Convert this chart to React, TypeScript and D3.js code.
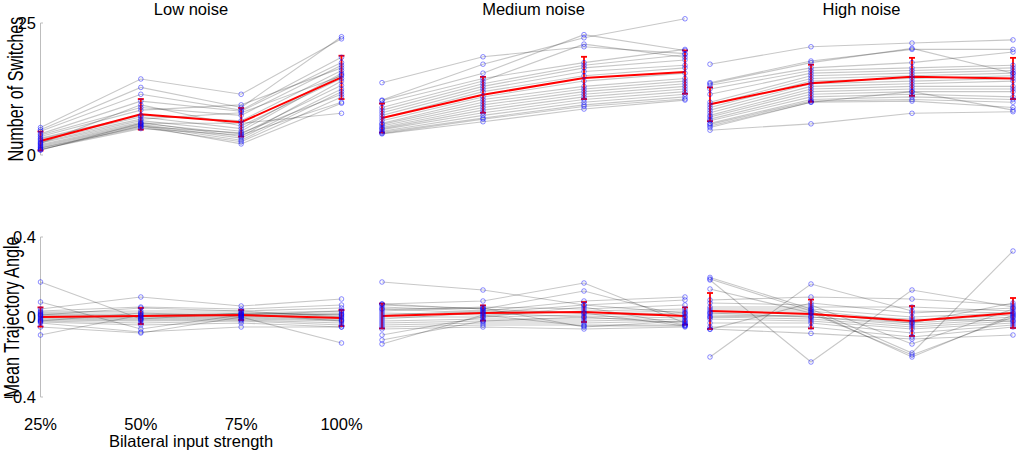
import React from "react";
import * as d3 from "d3";

const levels = ["25%", "50%", "75%", "100%"];
const noiseTitles = ["Low noise", "Medium noise", "High noise"];
const switchTicks = [0, 25];
const angleTicks = [-0.4, 0, 0.4];

// number of switches, one row per subject, columns = input strength
const switchesLow = [
  [5.2, 14.4, 11.5, 22.0], [4.8, 12.8, 9.0, 22.4], [4.5, 11.5, 8.5, 18.5],
  [4.0, 10.2, 8.3, 17.5], [3.8, 9.0, 7.5, 17.0], [3.5, 8.5, 9.5, 16.5],
  [3.2, 7.5, 6.5, 16.0], [3.0, 7.2, 5.0, 15.5], [2.8, 6.8, 8.0, 15.0],
  [2.5, 6.5, 4.5, 15.2], [2.3, 6.2, 3.5, 14.0], [2.0, 6.0, 4.0, 13.2],
  [1.8, 5.8, 3.2, 12.5], [1.6, 5.6, 2.8, 12.0], [1.4, 5.4, 4.2, 11.5],
  [1.3, 5.2, 2.5, 11.0], [1.1, 5.0, 3.8, 10.0], [1.0, 5.5, 2.1, 9.8],
  [0.9, 6.0, 6.0, 7.9], [2.2, 9.5, 5.5, 14.5],
];
const switchesMedium = [
  [13.7, 18.6, 20.5, 19.2], [10.4, 17.2, 22.2, 25.8], [10.3, 15.5, 22.8, 19.8],
  [9.8, 14.5, 17.5, 20.0], [9.0, 14.0, 21.0, 18.5], [8.5, 13.5, 17.0, 19.0],
  [8.0, 13.0, 16.5, 18.0], [7.5, 12.5, 15.8, 17.0], [7.0, 12.0, 15.0, 16.5],
  [6.5, 11.0, 14.0, 15.5], [6.0, 10.5, 13.0, 14.5], [5.8, 10.0, 12.5, 14.0],
  [5.5, 9.5, 12.0, 13.5], [5.2, 9.0, 11.5, 13.0], [5.0, 8.5, 11.0, 12.5],
  [4.8, 8.0, 10.5, 12.0], [4.5, 7.5, 10.0, 11.5], [4.3, 7.0, 9.5, 11.0],
  [4.1, 6.8, 9.2, 10.6], [4.0, 6.3, 8.7, 10.4],
];
const switchesHigh = [
  [17.2, 20.5, 21.2, 21.8], [13.7, 17.8, 20.0, 20.0], [13.5, 17.5, 20.2, 15.5],
  [13.2, 16.5, 17.5, 19.5], [12.5, 16.0, 16.5, 17.0], [11.5, 15.5, 16.0, 16.5],
  [10.0, 15.0, 15.5, 16.0], [9.5, 14.5, 15.0, 15.5], [9.0, 14.0, 14.5, 15.0],
  [8.5, 13.5, 14.0, 14.5], [8.0, 13.0, 13.5, 14.0], [7.5, 12.5, 13.0, 13.0],
  [7.2, 12.0, 12.5, 12.5], [6.8, 11.5, 12.0, 12.0], [6.5, 11.0, 11.5, 11.0],
  [6.0, 10.5, 11.0, 10.5], [5.8, 10.2, 10.5, 10.0], [5.5, 10.0, 10.2, 9.0],
  [5.2, 10.0, 12.0, 8.5], [4.7, 5.9, 7.9, 8.2],
];

// mean trajectory angle, one row per subject
const anglesLow = [
  [0.175, -0.01, 0.02, 0.01], [0.075, -0.06, 0.01, 0.03], [0.04, 0.1, 0.055, 0.09],
  [0.03, 0.05, 0.04, 0.06], [0.025, 0.03, 0.03, 0.045], [0.02, 0.02, 0.02, 0.03],
  [0.015, 0.01, 0.015, 0.02], [0.01, 0.005, 0.01, 0.01], [0.005, 0.0, 0.005, 0.0],
  [0.0, -0.005, 0.0, -0.01], [-0.005, -0.01, -0.005, -0.015], [-0.01, -0.015, -0.01, -0.02],
  [-0.015, -0.02, -0.015, -0.03], [-0.02, -0.03, -0.02, -0.04], [-0.025, -0.04, -0.03, -0.05],
  [-0.03, -0.075, -0.05, -0.05], [-0.05, -0.08, 0.0, -0.13], [-0.09, 0.01, 0.015, -0.02],
  [0.01, 0.045, 0.03, 0.0], [-0.02, 0.02, 0.005, 0.015],
];
const anglesMedium = [
  [0.175, 0.135, 0.06, 0.02], [0.065, 0.08, 0.17, -0.03], [0.06, 0.04, 0.13, 0.0],
  [0.05, 0.03, 0.08, 0.1], [0.04, 0.02, 0.06, 0.085], [0.03, 0.05, 0.04, 0.06],
  [0.02, 0.01, 0.03, 0.04], [0.01, 0.03, 0.02, 0.03], [0.0, 0.0, 0.01, 0.02],
  [-0.01, 0.02, 0.0, 0.01], [-0.02, -0.01, -0.01, 0.0], [-0.03, -0.02, -0.02, -0.01],
  [-0.04, -0.03, -0.03, -0.02], [-0.05, -0.04, -0.04, -0.04], [-0.06, -0.05, -0.06, -0.05],
  [-0.09, 0.0, 0.05, -0.04], [-0.115, -0.02, 0.0, -0.03], [-0.135, 0.01, -0.045, -0.045],
  [0.065, 0.04, 0.02, -0.045], [0.04, 0.045, -0.05, -0.02],
];
const anglesHigh = [
  [-0.2, 0.165, 0.03, 0.02], [0.198, 0.04, -0.18, 0.33], [0.19, 0.03, -0.2, 0.01],
  [0.185, -0.225, 0.135, 0.05], [0.14, 0.02, -0.19, 0.0], [0.085, 0.1, 0.09, 0.06],
  [0.07, 0.06, -0.135, 0.04], [0.05, 0.05, 0.05, 0.03], [0.04, 0.04, 0.0, 0.02],
  [0.03, 0.03, -0.02, 0.01], [0.02, 0.02, -0.03, 0.0], [0.01, 0.0, -0.04, -0.01],
  [0.0, -0.01, -0.05, -0.02], [-0.01, -0.02, -0.06, -0.03], [-0.03, -0.03, -0.08, -0.04],
  [-0.05, -0.05, -0.1, -0.05], [-0.06, -0.082, -0.11, -0.09], [-0.062, 0.07, 0.02, 0.045],
  [0.02, 0.0, -0.03, 0.07], [0.0, 0.01, -0.01, -0.02],
];

// group means and error bar half-widths (low, medium, high noise)
const switchMeans = [[2.65, 7.7, 6.2, 14.7], [7.0, 11.4, 14.6, 15.7], [9.6, 13.6, 14.8, 14.5]];
const switchErrs = [[1.8, 2.9, 2.7, 4.1], [2.75, 3.4, 4.0, 4.1], [3.2, 3.5, 3.6, 3.9]];
const angleMeans = [[0.0, 0.005, 0.01, -0.005], [0.005, 0.02, 0.025, 0.005], [0.03, 0.015, -0.02, 0.02]];
const angleErrs = [[0.048, 0.04, 0.025, 0.04], [0.062, 0.038, 0.05, 0.043], [0.09, 0.072, 0.075, 0.075]];

const switchData = [switchesLow, switchesMedium, switchesHigh];
const angleData = [anglesLow, anglesMedium, anglesHigh];

const W = 1020;
const H = 452;
const FONT = "'Liberation Sans', Arial, sans-serif";
const colRanges: [number, number][] = [[40.5, 341.5], [382, 685], [710, 1013]];

const ySwitch = d3.scaleLinear().domain([0, 25]).range([155, 23]);
const yAngle = d3.scaleLinear().domain([-0.4, 0.4]).range([397, 237]);

interface PanelProps {
  subjects: number[][];
  means: number[];
  errs: number[];
  x: d3.ScalePoint<string>;
  y: d3.ScaleLinear<number, number>;
}

const Panel: React.FC<PanelProps> = ({ subjects, means, errs, x, y }) => {
  const line = d3
    .line<number>()
    .x((_, i) => x(levels[i]) ?? 0)
    .y((d) => y(d));
  const cap = 3;
  return (
    <g>
      {subjects.map((s, i) => (
        <path key={"l" + i} d={line(s) ?? ""} fill="none" stroke="#000" strokeOpacity={0.22} strokeWidth={1.1} />
      ))}
      <path d={line(means) ?? ""} fill="none" stroke="#ff0000" strokeWidth={2} />
      {means.map((m, i) => {
        const cx = x(levels[i]) ?? 0;
        const y1 = y(m + errs[i]);
        const y2 = y(m - errs[i]);
        return (
          <g key={"e" + i} stroke="#ff0000" strokeWidth={1.8}>
            <line x1={cx} x2={cx} y1={y1} y2={y2} />
            <line x1={cx - cap} x2={cx + cap} y1={y1} y2={y1} />
            <line x1={cx - cap} x2={cx + cap} y1={y2} y2={y2} />
          </g>
        );
      })}
      {subjects.map((s, i) =>
        s.map((v, j) => (
          <circle
            key={"c" + i + "-" + j}
            cx={x(levels[j]) ?? 0}
            cy={y(v)}
            r={2.3}
            fill="none"
            stroke="#0000ff"
            strokeOpacity={0.5}
            strokeWidth={0.9}
          />
        ))
      )}
    </g>
  );
};

const YAxis: React.FC<{
  y: d3.ScaleLinear<number, number>;
  ticks: number[];
  label: string;
  labelX: number;
  fmt: (v: number) => string;
}> = ({ y, ticks, label, labelX, fmt }) => {
  const ax = colRanges[0][0];
  const [d0, d1] = y.domain();
  const mid = (y(d0) + y(d1)) / 2;
  return (
    <g>
      <line x1={ax} x2={ax} y1={y(d1)} y2={y(d0)} stroke="#bdbdbd" strokeWidth={1} />
      {ticks.map((t) => (
        <g key={t}>
          <line x1={ax} x2={ax + 2.5} y1={y(t)} y2={y(t)} stroke="#bdbdbd" />
          <text x={36} y={y(t)} dy="0.36em" textAnchor="end" fontSize={16.5} fill="#000">
            {fmt(t)}
          </text>
        </g>
      ))}
      <text
        transform={`translate(${labelX},${mid}) rotate(-90) scale(1,1.4)`}
        textAnchor="middle"
        fontSize={16.2}
        fill="#000"
      >
        {label}
      </text>
    </g>
  );
};

export default function App() {
  const xs = colRanges.map((r) => d3.scalePoint<string>().domain(levels).range(r));
  return (
    <svg
      width={W}
      height={H}
      style={{ position: "absolute", left: 0, top: 0, background: "#fff" }}
      fontFamily={FONT}
    >
      <rect width={W} height={H} fill="#fff" />
      {noiseTitles.map((t, i) => (
        <text key={t} x={(colRanges[i][0] + colRanges[i][1]) / 2} y={15} textAnchor="middle" fontSize={16.5}>
          {t}
        </text>
      ))}
      <YAxis y={ySwitch} ticks={switchTicks} label="Number of Switches" labelX={23} fmt={(v) => String(v)} />
      <YAxis y={yAngle} ticks={angleTicks} label="Mean Trajectory Angle" labelX={19} fmt={(v) => (v === 0 ? "0" : d3.format(".1f")(v))} />
      {xs.map((x, i) => (
        <g key={"p" + i}>
          <Panel subjects={switchData[i]} means={switchMeans[i]} errs={switchErrs[i]} x={x} y={ySwitch} />
          <Panel subjects={angleData[i]} means={angleMeans[i]} errs={angleErrs[i]} x={x} y={yAngle} />
        </g>
      ))}
      {levels.map((l) => (
        <text key={l} x={xs[0](l) ?? 0} y={430} textAnchor="middle" fontSize={16.5}>
          {l}
        </text>
      ))}
      <text x={(colRanges[0][0] + colRanges[0][1]) / 2} y={447} textAnchor="middle" fontSize={16.5}>
        Bilateral input strength
      </text>
    </svg>
  );
}
